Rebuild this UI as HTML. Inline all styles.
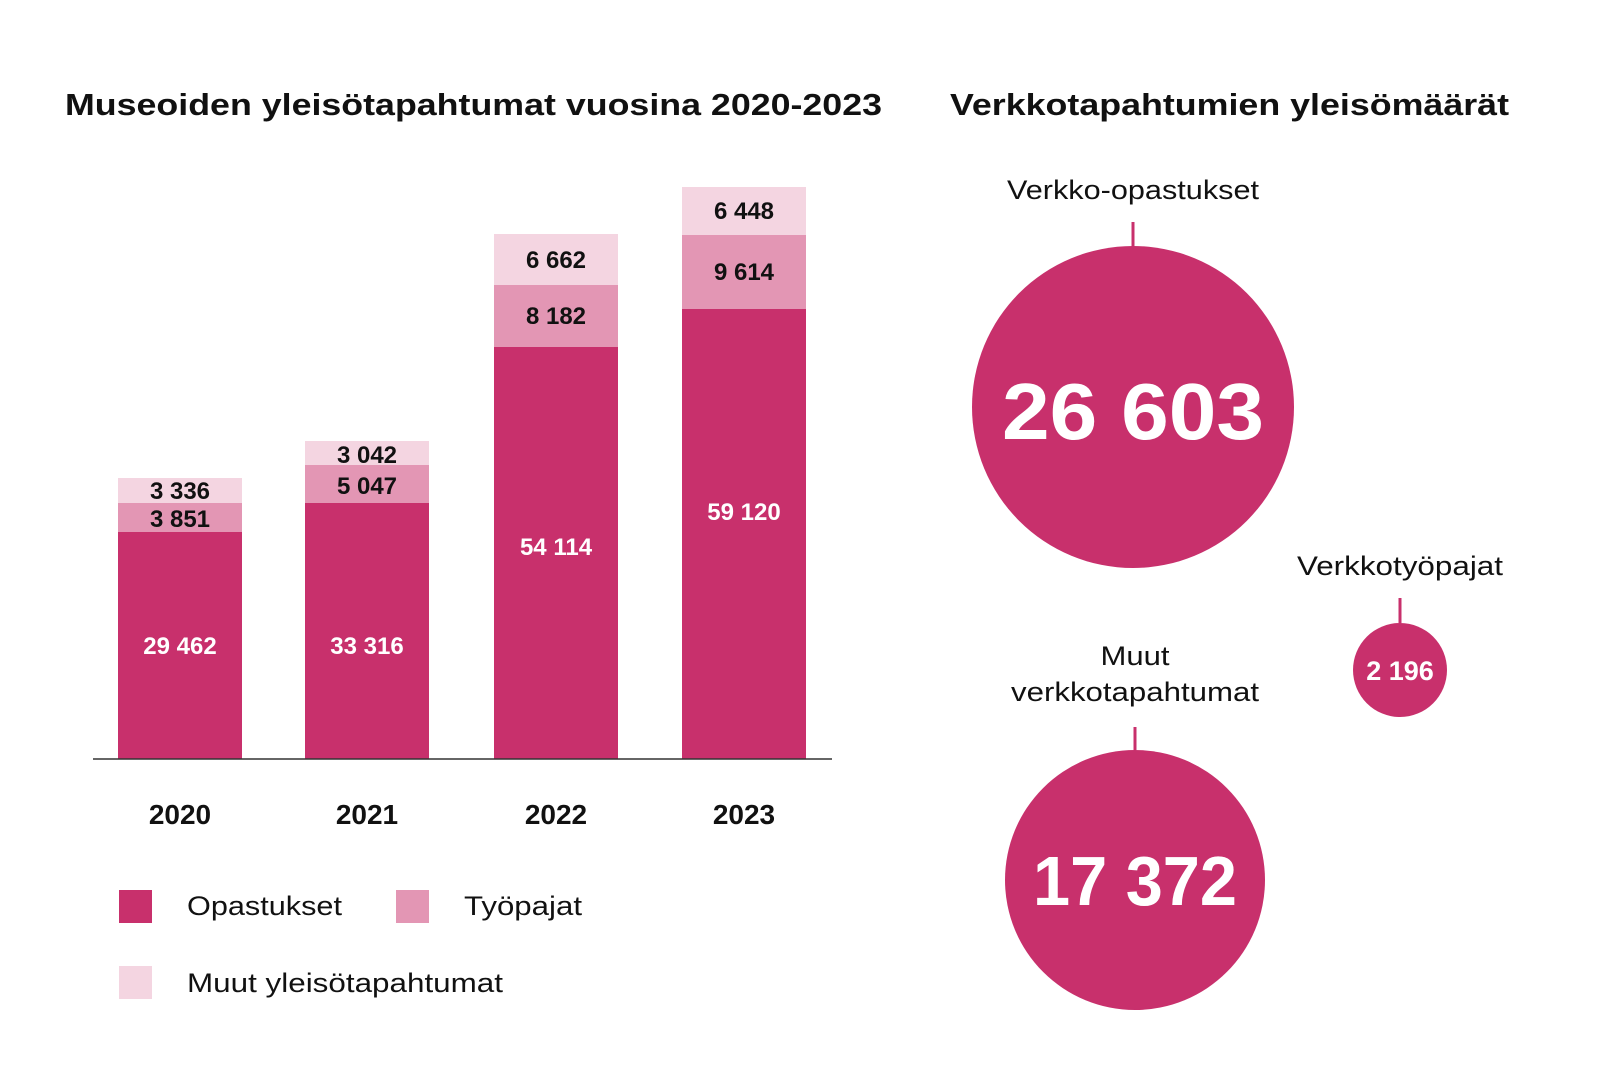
<!DOCTYPE html>
<html><head><meta charset="utf-8"><style>
html,body{margin:0;padding:0;background:#fff;}
svg{display:block;font-family:"Liberation Sans",sans-serif;}
.b{font-weight:bold}
</style></head><body>
<svg width="1600" height="1069" viewBox="0 0 1600 1069">
<rect width="1600" height="1069" fill="#fff"/>
<text x="65" y="115" class="b" font-size="31" fill="#111" textLength="817" lengthAdjust="spacingAndGlyphs">Museoiden yleisötapahtumat vuosina 2020-2023</text>
<text x="950" y="115" class="b" font-size="31" fill="#111" textLength="559" lengthAdjust="spacingAndGlyphs">Verkkotapahtumien yleisömäärät</text>
<g transform="translate(0,-3)">
<rect x="118" y="481" width="124" height="25" fill="#f4d5e1"/>
<rect x="118" y="506" width="124" height="29" fill="#e396b4"/>
<rect x="118" y="535" width="124" height="227" fill="#c8306c"/>
<rect x="305" y="444" width="124" height="24" fill="#f4d5e1"/>
<rect x="305" y="468" width="124" height="38" fill="#e396b4"/>
<rect x="305" y="506" width="124" height="256" fill="#c8306c"/>
<rect x="494" y="237" width="124" height="51" fill="#f4d5e1"/>
<rect x="494" y="288" width="124" height="62" fill="#e396b4"/>
<rect x="494" y="350" width="124" height="412" fill="#c8306c"/>
<rect x="682" y="190" width="124" height="48" fill="#f4d5e1"/>
<rect x="682" y="238" width="124" height="74" fill="#e396b4"/>
<rect x="682" y="312" width="124" height="450" fill="#c8306c"/>
<line x1="93" y1="762" x2="832" y2="762" stroke="#333" stroke-width="1.5"/>
<g class="b" font-size="24" text-anchor="middle" fill="#111">
<text x="180" y="502">3 336</text>
<text x="180" y="530">3 851</text>
<text x="367" y="466">3 042</text>
<text x="367" y="497">5 047</text>
<text x="556" y="271">6 662</text>
<text x="556" y="327">8 182</text>
<text x="744" y="222">6 448</text>
<text x="744" y="283">9 614</text>
<g fill="#fff">
<text x="180" y="657">29 462</text>
<text x="367" y="657">33 316</text>
<text x="556" y="558">54 114</text>
<text x="744" y="523">59 120</text>
</g>
<g font-size="28">
<text x="180" y="827">2020</text>
<text x="367" y="827">2021</text>
<text x="556" y="827">2022</text>
<text x="744" y="827">2023</text>
</g>
</g>
</g>
<rect x="119" y="890" width="33" height="33" fill="#c8306c"/>
<rect x="396" y="890" width="33" height="33" fill="#e396b4"/>
<rect x="119" y="966" width="33" height="33" fill="#f4d5e1"/>
<g font-size="27" fill="#111">
<text x="187" y="915" textLength="155" lengthAdjust="spacingAndGlyphs">Opastukset</text>
<text x="464" y="915" textLength="118" lengthAdjust="spacingAndGlyphs">Työpajat</text>
<text x="187" y="992" textLength="316" lengthAdjust="spacingAndGlyphs">Muut yleisötapahtumat</text>
</g>
<g fill="#c8306c">
<circle cx="1133" cy="407" r="161"/>
<circle cx="1400" cy="670" r="47"/>
<circle cx="1135" cy="880" r="130"/>
</g>
<g stroke="#c8306c" stroke-width="3">
<line x1="1133" y1="222" x2="1133" y2="247"/>
<line x1="1400" y1="598" x2="1400" y2="623"/>
<line x1="1135" y1="727" x2="1135" y2="750"/>
</g>
<g font-size="27" fill="#111" text-anchor="middle">
<text x="1133" y="199" textLength="252" lengthAdjust="spacingAndGlyphs">Verkko-opastukset</text>
<text x="1400" y="575" textLength="206" lengthAdjust="spacingAndGlyphs">Verkkotyöpajat</text>
<text x="1135" y="665" textLength="69" lengthAdjust="spacingAndGlyphs">Muut</text>
<text x="1135" y="701" textLength="248" lengthAdjust="spacingAndGlyphs">verkkotapahtumat</text>
</g>
<g class="b" fill="#fff" text-anchor="middle">
<text x="1133" y="439" font-size="80" textLength="262" lengthAdjust="spacingAndGlyphs">26 603</text>
<text x="1135" y="905" font-size="70" textLength="204" lengthAdjust="spacingAndGlyphs">17 372</text>
<text x="1400" y="680" font-size="27">2 196</text>
</g>
</svg>
</body></html>
